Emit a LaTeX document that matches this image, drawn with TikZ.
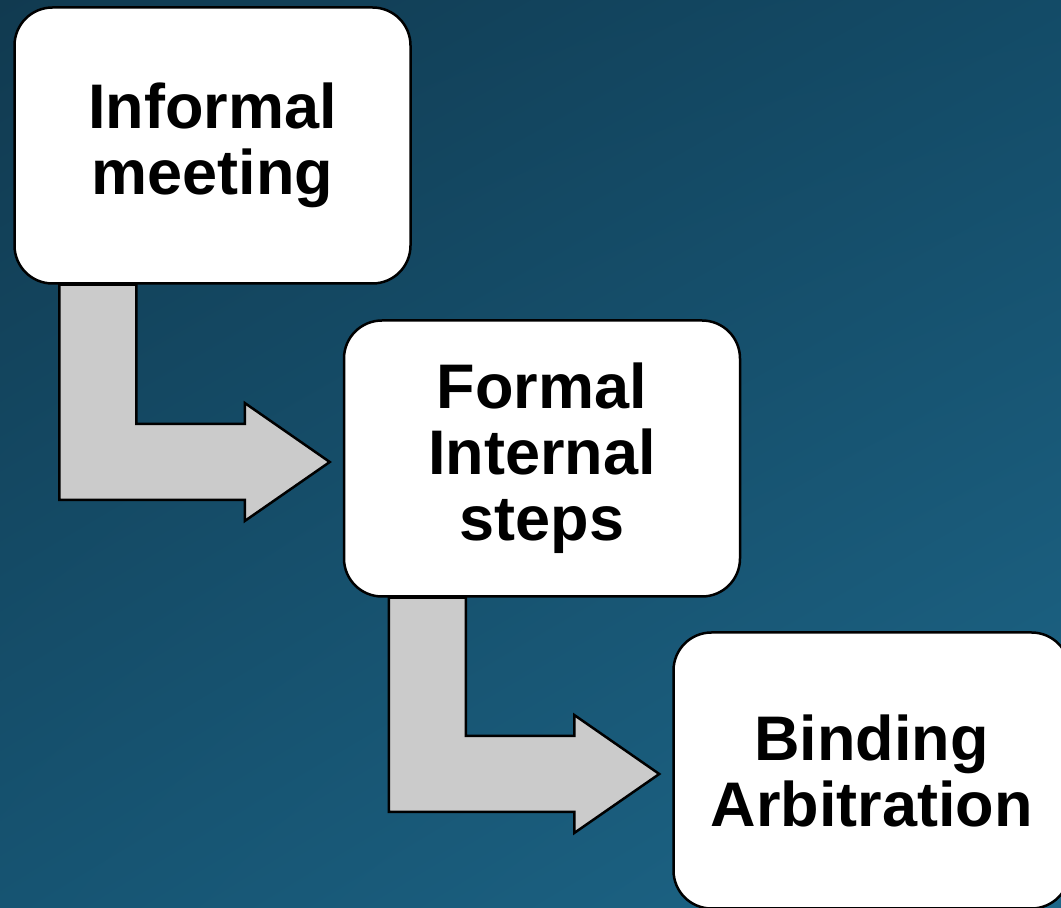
\documentclass[tikz,border=0pt]{standalone}
\usepackage{fontspec}
\setmainfont{Liberation Sans}
\usetikzlibrary{calc,shadings}
\pgfdeclarelayer{bg}
\pgfdeclarelayer{under}
\pgfsetlayers{bg,under,main}
\definecolor{bgul}{HTML}{113A50}
\definecolor{bgur}{HTML}{134B67}
\definecolor{bgll}{HTML}{165472}
\definecolor{bglr}{HTML}{1E6789}
\definecolor{arrowgray}{HTML}{CBCBCB}
\begin{document}
\begin{tikzpicture}[
  x=1pt, y=1pt,
  stage/.style = {
    draw,
    line width=2.5pt,
    fill=white,
    rounded corners=38pt,
    minimum width=396pt,
    minimum height=276pt,
    align=center,
    font=\fontsize{63}{66}\selectfont\bfseries
  },
  barrow/.style={draw, line width=2.5pt, fill=arrowgray, line join=miter}
]
    \useasboundingbox (0,0) rectangle (1061,908);
    \begin{pgfonlayer}{bg}
      \shade[upper left=bgul, upper right=bgur, lower left=bgll, lower right=bglr]
        (0,0) rectangle (1061,908);
    \end{pgfonlayer}
    \node[stage] (s1) at (212.5,762.5) {Informal\\meeting};
    \node[stage] (s2) at (542,449.5) {Formal\\Internal\\steps};
    \node[stage] (s3) at (871.5,137.5) {Binding\\Arbitration};
    \begin{pgfonlayer}{under}
    \foreach \a/\b in {s1/s2, s2/s3}{
        \path[barrow] let \p1 = ([xshift=46pt]\a.south west),
                          \p2 = ([xshift=-13pt,yshift=-3.5pt]\b.west) in
          (\p1) -- ++(77pt,0) |- (\x2-85pt,\y2+38pt) -- (\x2-85pt,\y2+59pt)
          -- (\p2) -- (\x2-85pt,\y2-59pt) -- (\x2-85pt,\y2-38pt) -| (\p1) -- cycle;
    }
    \end{pgfonlayer}
\end{tikzpicture}
\end{document}
